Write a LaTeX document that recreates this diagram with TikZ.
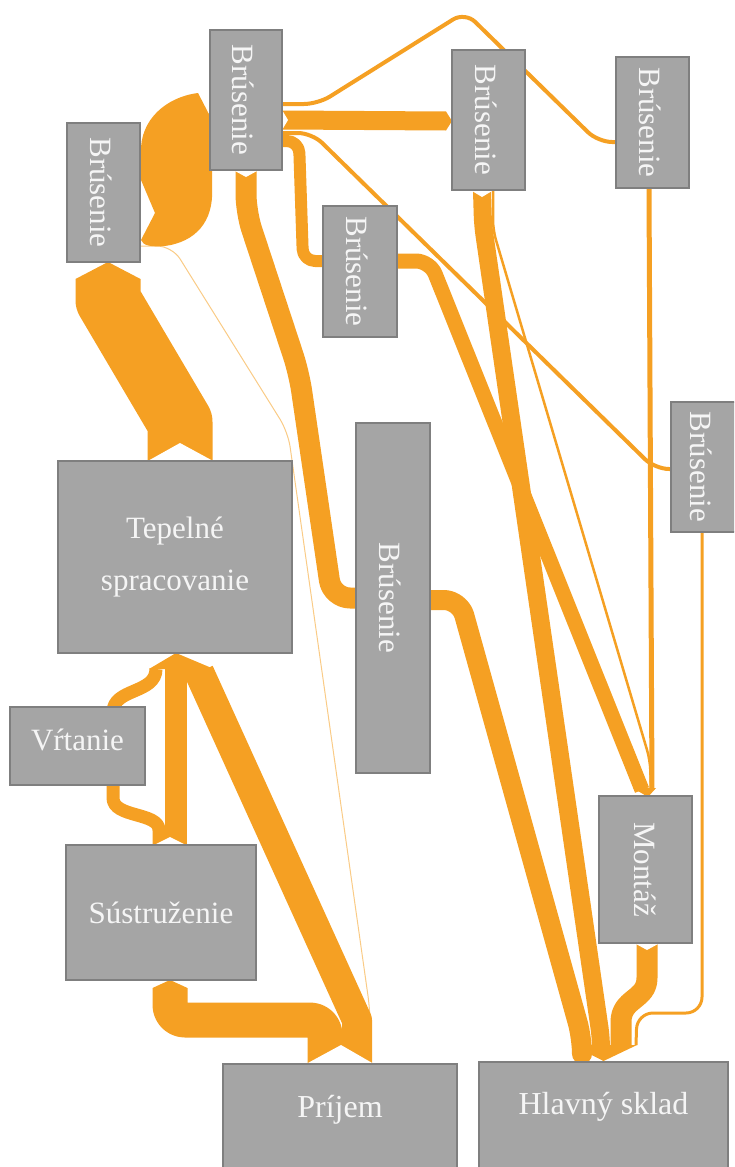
\documentclass[tikz,border=0pt]{standalone}
\usepackage{fontspec}
\setmainfont{Liberation Serif}
\usepackage{graphicx}
\definecolor{flow}{HTML}{F5A023}
\definecolor{boxfill}{HTML}{A5A5A5}
\definecolor{boxline}{HTML}{7F7F7F}
\definecolor{boxtext}{HTML}{F5F5F5}
\newcommand{\vlabel}[1]{\rotatebox{-90}{\rule{0pt}{27pt}#1}}
\pgfdeclarelayer{bg}
\pgfsetlayers{bg,main}
\begin{document}
\begin{tikzpicture}[x=1pt,y=-1pt,
  box/.style={draw=boxline, fill=boxfill, line width=2pt, inner sep=0pt, text=boxtext, font=\fontsize{31}{37}\selectfont},
  lbl/.style={text=boxtext, font=\fontsize{32}{38}\selectfont, inner sep=0pt},
  band/.style={draw=flow, line width=#1, line join=round},
  tipshape/.style={fill=flow},
  notchshape/.style={fill=white},
  faint/.style={draw=flow, line width=1pt, opacity=0.55},
]
\useasboundingbox (0,0) rectangle (734,1167);
\clip (0,0) rectangle (734,1167);

% ---------- nodes ----------
\node[box, minimum width=73pt, minimum height=139pt] (b1) at (103.5,192.5) {\vlabel{Brúsenie}};
\node[box, minimum width=72pt, minimum height=140pt] (b2) at (246,100) {\vlabel{Brúsenie}};
\node[box, minimum width=73pt, minimum height=140pt] (b3) at (488.5,120) {\vlabel{Brúsenie}};
\node[box, minimum width=73pt, minimum height=131pt] (b4) at (652.5,122.5) {\vlabel{Brúsenie}};
\node[box, minimum width=74pt, minimum height=131pt] (b5) at (360,271.5) {\vlabel{Brúsenie}};
\node[box, minimum width=65pt, minimum height=130pt] (b6) at (703.5,467) {\vlabel{Brúsenie}};
\node[box, minimum width=74pt, minimum height=350pt] (b7) at (393,598) {\vlabel{Brúsenie}};
\node[box, minimum width=93pt, minimum height=147pt] (montaz) at (645.5,869.5) {\rotatebox{-90}{Montáž}};
\node[box, minimum width=234pt, minimum height=192pt, align=center, font=\fontsize{31}{52}\selectfont] (tep) at (175,557) {Tepelné\\spracovanie};
\node[box, minimum width=135pt, minimum height=78pt, text depth=12pt] (vrt) at (77.5,746) {Vŕtanie};
\node[box, minimum width=190pt, minimum height=135pt] (sus) at (161,912.5) {Sústruženie};
\node[box, minimum width=234pt, minimum height=140pt, anchor=north] (prijem) at (340,1063) {};
\node[lbl] (prijemT) at (340,1110) {Príjem};
\node[box, minimum width=249pt, minimum height=140pt, anchor=north] (hlavny) at (603.5,1061) {};
\node[lbl] (hlavnyT) at (603.5,1107) {Hlavný sklad};

% ---------- flows ----------
\begin{pgfonlayer}{bg}
% Prijem -> Tepelne spracovanie
\draw[band=30pt] ([xshift=17pt]prijem.north) -- (357,1020) -- (199,672) -- (199,669);
% Prijem -> Sustruzenie
\draw[band=35pt, rounded corners=15pt] ([xshift=-15pt]prijem.north) -- (325,1020) -- (170,1020) -- (170,988);
% Sustruzenie -> Tepelne
\draw[band=22pt] ([xshift=15pt]sus.north) -- (176,669);
% Sustruzenie -> Vrtanie -> Tepelne
\draw[band=13pt] ([xshift=-2pt]sus.north) -- (159,830) .. controls (159,812) and (113,818) .. (113,798) -- (113,712) .. controls (113,688) and (156,694) .. (156,669);
% Tepelne -> Brusenie 1
\draw[band=65pt] ([xshift=5pt]tep.north) -- (180,422) -- (108,300) -- (108,279);
% Brusenie 1 -> Brusenie 2 (crescent)
\fill[flow] (198,93) .. controls (166,97) and (140,120) .. (141,152) -- (141,180) -- (155,213) -- (141,240)
  .. controls (143,246) and (152,247) .. (165,246) .. controls (195,242) and (214,222) .. (212,188) -- (212,120) -- cycle;
% Brusenie 1 -> Prijem (faint)
\draw[faint, rounded corners=15pt] ([yshift=-53.5pt]b1.east) -- (172,246) -- (288,432) -- (370,1010) -- ([xshift=31pt]prijem.north);
% Brusenie 2 -> Brusenie 3
\draw[band=19pt] ([yshift=-20pt]b2.east) -- (446,121);
% Brusenie 2 -> Brusenie 4
\draw[band=4pt, rounded corners=14pt] ([yshift=-4pt]b2.east) -- (318,104) -- (465,12) -- (598,142) -- ([yshift=-19.5pt]b4.west);
% Brusenie 2 -> Brusenie 6
\draw[band=4pt, rounded corners=14pt] ([yshift=-33pt]b2.east) -- (312,133) -- (655,469) -- ([yshift=-2pt]b6.west);
% Brusenie 2 -> Brusenie 5
\draw[band=12pt, rounded corners=12pt] ([yshift=-41pt]b2.east) -- (299,141) -- (303,261) -- ([yshift=10.5pt]b5.west);
% Brusenie 2 -> Brusenie 7
\draw[band=21pt, rounded corners=18pt] (b2.south) -- (246,212) -- (299,373) -- (332,598) -- (b7.west);
% Brusenie 5 -> Montaz
\draw[band=15pt, rounded corners=14pt] ([yshift=10.5pt]b5.east) -- (430,261) -- (642,790);
% Brusenie 3 -> Hlavny sklad
\draw[band=18pt, rounded corners=10pt] ([xshift=-6.5pt]b3.south) -- (483,225) -- (601,1038) -- (601,1045);
% Brusenie 3 -> Montaz
\draw[band=2.5pt, rounded corners=10pt] ([xshift=4.5pt]b3.south) -- (493,230) -- (650,760) -- (651,790);
% Brusenie 4 -> Montaz
\draw[band=5pt] ([xshift=-3.5pt]b4.south) -- (652,790);
% Brusenie 7 -> Hlavny sklad
\draw[band=20pt, rounded corners=16pt] ([yshift=-2pt]b7.east) -- (460,600) -- (582,1038) -- (582,1045);
% Montaz -> Hlavny sklad
\draw[band=21pt] ([xshift=1.5pt]montaz.south) -- (647,978) .. controls (647,1000) and (621,998) .. (621,1022) -- (621,1045);
% Brusenie 6 -> Hlavny sklad
\draw[band=3pt, rounded corners=16pt] ([xshift=-1.5pt]b6.south) -- (702,1013) -- (637,1013) -- (636,1045);

% arrow tips
\fill[tipshape] (149,669) -- (176,653) -- (214,669) -- cycle;
\fill[tipshape] (75.5,279) -- (108,262) -- (140.5,279) -- cycle;
\fill[tipshape] (152.5,988) -- (170,980) -- (187.5,988) -- cycle;
\fill[tipshape] (446,111.5) -- (452,121) -- (446,130.5) -- cycle;
\fill[tipshape] (633,788) -- (648,797) -- (656,788) -- cycle;
\fill[tipshape] (572,1045) -- (603.5,1061) -- (637,1045) -- cycle;

% tails (notches)
\fill[notchshape] (306,1064) -- (341,1045) -- (374,1064) -- cycle;
\fill[notchshape] (146,462) -- (180,443) -- (215,462) -- cycle;
\fill[notchshape] (152,846) -- (170,837) -- (188,846) -- cycle;
\fill[notchshape] (636,944) -- (647,950) -- (658,944) -- cycle;
\fill[notchshape] (282,110) -- (288,120) -- (282,130) -- cycle;
\fill[notchshape] (235,171) -- (246,177) -- (257,171) -- cycle;
\fill[notchshape] (472,191) -- (482,197) -- (492,191) -- cycle;
\end{pgfonlayer}
\end{tikzpicture}
\end{document}
